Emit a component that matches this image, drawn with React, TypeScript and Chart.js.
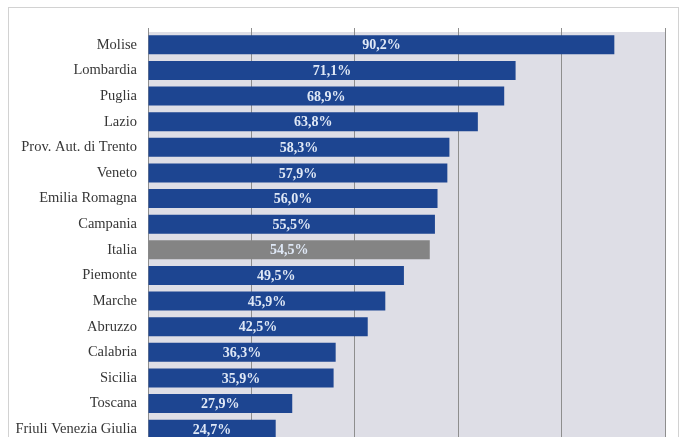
import React, { useEffect, useRef } from "react";
import { Chart, registerables } from "chart.js";

Chart.register(...registerables);

const categories = [
  "Molise",
  "Lombardia",
  "Puglia",
  "Lazio",
  "Prov. Aut. di Trento",
  "Veneto",
  "Emilia Romagna",
  "Campania",
  "Italia",
  "Piemonte",
  "Marche",
  "Abruzzo",
  "Calabria",
  "Sicilia",
  "Toscana",
  "Friuli Venezia Giulia",
];

const values = [90.2, 71.1, 68.9, 63.8, 58.3, 57.9, 56.0, 55.5, 54.5, 49.5, 45.9, 42.5, 36.3, 35.9, 27.9, 24.7];

const xTicks = [0, 20, 40, 60, 80, 100];

const BLUE = "#1d4591";
const GREY = "#848484";

const frameAndBackground = {
  id: "frameAndBackground",
  beforeDraw(chart: any) {
    const { ctx, chartArea } = chart;
    ctx.save();
    ctx.fillStyle = "#ffffff";
    ctx.fillRect(0, 0, chart.width, chart.height);
    ctx.strokeStyle = "#d2d2d2";
    ctx.lineWidth = 1;
    ctx.strokeRect(8.5, 7.5, 670, chart.height + 20);
    ctx.fillStyle = "#dedee6";
    ctx.fillRect(chartArea.left, chartArea.top, chartArea.right - chartArea.left, chartArea.bottom - chartArea.top);
    ctx.restore();
  },
};

const barLabels = {
  id: "barLabels",
  afterDatasetsDraw(chart: any) {
    const { ctx } = chart;
    const meta = chart.getDatasetMeta(0);
    ctx.save();
    ctx.font = "bold 14px 'Liberation Serif', serif";
    ctx.fillStyle = "#dfe8f6";
    ctx.textAlign = "center";
    ctx.textBaseline = "middle";
    meta.data.forEach((bar: any, i: number) => {
      const cx = (bar.x + bar.base) / 2;
      ctx.fillText(values[i].toFixed(1).replace(".", ",") + "%", cx, bar.y + 1);
    });
    ctx.restore();
  },
};

export default function App() {
  const ref = useRef<HTMLCanvasElement | null>(null);

  useEffect(() => {
    if (!ref.current) return;
    const chart = new Chart(ref.current, {
      type: "bar",
      data: {
        labels: categories,
        datasets: [
          {
            data: values,
            backgroundColor: categories.map((c) => (c === "Italia" ? GREY : BLUE)),
            borderWidth: 0,
            categoryPercentage: 1,
            barPercentage: 0.74,
          },
        ],
      },
      options: {
        indexAxis: "y",
        animation: false,
        responsive: false,
        devicePixelRatio: 1,
        layout: { padding: { top: 28, right: 19, bottom: 0, left: 0 } },
        plugins: {
          legend: { display: false },
          tooltip: { enabled: false },
          title: { display: false },
        },
        scales: {
          x: {
            position: "top",
            min: xTicks[0],
            max: xTicks[xTicks.length - 1],
            afterBuildTicks: (scale: any) => {
              scale.ticks = xTicks.map((v) => ({ value: v }));
            },
            ticks: { display: false },
            grid: { color: "#8e8e8e", lineWidth: 1, tickLength: 4, drawTicks: true },
            border: { display: false },
          },
          y: {
            afterFit: (scale: any) => {
              scale.width = 148;
              scale.paddingTop = 0;
              scale.paddingBottom = 0;
            },
            ticks: {
              color: "#363636",
              padding: 11,
              font: { family: "'Liberation Serif', serif", size: 14.5 },
            },
            grid: { display: false, drawTicks: false },
            border: { display: false },
          },
        },
      },
      plugins: [frameAndBackground, barLabels],
    });
    return () => chart.destroy();
  }, []);

  return (
    <div style={{ position: "fixed", left: 0, top: 0, width: 684, height: 437, overflow: "hidden", background: "#fff" }}>
      <canvas ref={ref} width={684} height={442} style={{ width: 684, height: 442, display: "block" }} />
    </div>
  );
}
